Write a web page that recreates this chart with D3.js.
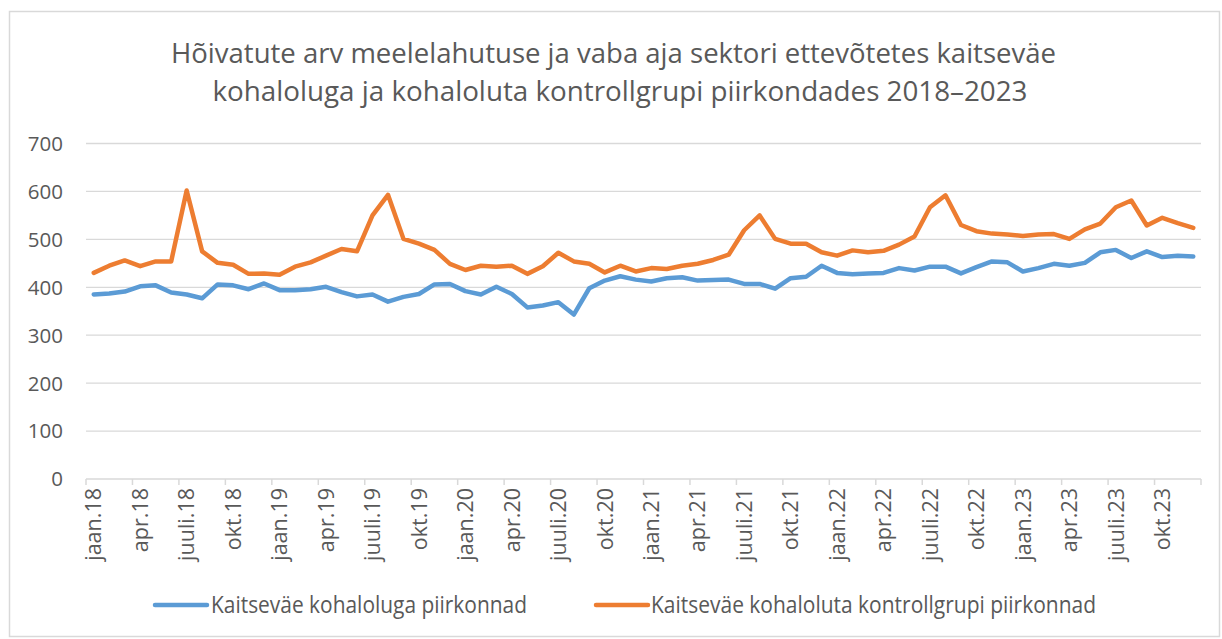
<!DOCTYPE html>
<html>
<head>
<meta charset="utf-8">
<script src="https://cdn.jsdelivr.net/npm/d3@7"></script>
<style>
  html, body { margin: 0; padding: 0; background: #fff; }
  svg { display: block; }
</style>
</head>
<body>
<svg id="chart" width="1222" height="639"></svg>
<script>
// ---- data ----
const titleLines = [
  "Hõivatute arv meelelahutuse ja vaba aja sektori ettevõtetes kaitseväe",
  "kohaloluga ja kohaloluta kontrollgrupi piirkondades 2018–2023"
];
const monthNames = ["jaan", "veebr", "märts", "apr", "mai", "juuni", "juuli", "aug", "sept", "okt", "nov", "dets"];
const years = ["18", "19", "20", "21", "22", "23"];
const categories = years.flatMap(y => monthNames.map(m => m + "." + y));
const tickLabels = years.flatMap(y => ["jaan." + y, "apr." + y, "juuli." + y, "okt." + y]);
const yTicks = [0, 100, 200, 300, 400, 500, 600, 700];
const seriesNames = ["Kaitseväe kohaloluga piirkonnad", "Kaitseväe kohaloluta kontrollgrupi piirkonnad"];
const withPresence = [
  385, 387, 391, 402, 404, 389, 385, 377, 406, 404, 396, 408,
  394, 394, 396, 401, 390, 381, 385, 370, 380, 386, 406, 407,
  392, 385, 401, 386, 358, 362, 369, 343, 398, 414, 423, 416,
  412, 419, 421, 414, 415, 416, 407, 407, 397, 419, 422, 445,
  430, 427, 429, 430, 440, 435, 443, 443, 429, 442, 454, 452,
  433, 440, 449, 445, 451, 473, 478, 461, 475, 463, 466, 464
];
const controlGroup = [
  430, 445, 456, 444, 454, 454, 602, 475, 451, 447, 428, 429,
  426, 443, 452, 466, 480, 475, 550, 593, 501, 491, 478, 449,
  436, 445, 443, 445, 428, 444, 472, 454, 449, 431, 445, 433,
  440, 438, 445, 449, 457, 468, 519, 550, 501, 491, 491, 473,
  466, 477, 473, 476, 489, 506, 567, 592, 530, 517, 512, 510,
  507, 510, 511, 501, 521, 533, 567, 581, 529, 545, 534, 524
];
const colors = ["#5B9BD5", "#ED7D31"];

// ---- drawing ----
const svg = d3.select("#chart");
const font = "'Open Sans', 'Noto Sans', sans-serif";
const textColor = "#595959";

svg.append("rect").attr("x", 9.5).attr("y", 11.5).attr("width", 1210).attr("height", 625)
  .attr("fill", "#fff").attr("stroke", "#d9d9d9").attr("stroke-width", 1.5);

const x = d3.scaleBand().domain(categories).range([86, 1201]).padding(0);
const y = d3.scaleLinear().domain([0, 700]).range([479, 143.5]);
const cx = c => x(c) + x.bandwidth() / 2;

// title
const titleX = [171, 212.5], titleW = [885, 815], titleY = [63, 101];
titleLines.forEach((t, i) => {
  svg.append("text").attr("x", titleX[i]).attr("y", titleY[i])
    .attr("font-family", font).attr("font-size", 26.5).attr("fill", textColor)
    .attr("textLength", titleW[i]).attr("lengthAdjust", "spacingAndGlyphs")
    .text(t);
});

// gridlines
svg.append("g").selectAll("line").data(yTicks.filter(d => d > 0)).join("line")
  .attr("x1", 86).attr("x2", 1201)
  .attr("y1", d => y(d)).attr("y2", d => y(d))
  .attr("stroke", "#d9d9d9").attr("stroke-width", 1.3);

// y labels
svg.append("g").selectAll("text").data(yTicks).join("text")
  .attr("x", 63).attr("y", d => y(d)).attr("dy", "0.36em")
  .attr("text-anchor", "end").attr("font-family", font).attr("font-size", 20.5)
  .attr("fill", textColor).text(d => d);

// x axis line and ticks
svg.append("line").attr("x1", 86).attr("x2", 1201).attr("y1", y(0)).attr("y2", y(0))
  .attr("stroke", "#d9d9d9").attr("stroke-width", 1.5);
const tickCats = categories.filter((c, i) => i % 3 === 0);
const tickPos = tickCats.map(c => x(c)).concat([x.range()[1]]);
svg.append("g").selectAll("line").data(tickPos).join("line")
  .attr("x1", d => d).attr("x2", d => d).attr("y1", y(0)).attr("y2", y(0) + 6)
  .attr("stroke", "#d9d9d9").attr("stroke-width", 1.5);

// x labels
svg.append("g").selectAll("text").data(tickCats).join("text")
  .attr("transform", (c) => `translate(${cx(c)},${y(0) + 9}) rotate(-90)`)
  .attr("dy", "0.36em").attr("text-anchor", "end")
  .attr("font-family", font).attr("font-size", 21.5).attr("fill", textColor)
  .text((c, i) => tickLabels[i]);

// lines
const line = d3.line().x((d, i) => cx(categories[i])).y(d => y(d));
[withPresence, controlGroup].forEach((s, k) => {
  svg.append("path").datum(s).attr("d", line)
    .attr("fill", "none").attr("stroke", colors[k]).attr("stroke-width", 4.5)
    .attr("stroke-linejoin", "round").attr("stroke-linecap", "round");
});

// legend
const legX = [155, 596], legTextX = [211, 651], legW = [316, 445];
seriesNames.forEach((n, k) => {
  svg.append("line").attr("x1", legX[k]).attr("x2", legX[k] + 52).attr("y1", 605).attr("y2", 605)
    .attr("stroke", colors[k]).attr("stroke-width", 4.5).attr("stroke-linecap", "round");
  svg.append("text").attr("x", legTextX[k]).attr("y", 613)
    .attr("font-family", font).attr("font-size", 23).attr("fill", textColor)
    .attr("textLength", legW[k]).attr("lengthAdjust", "spacingAndGlyphs")
    .text(n);
});
</script>
</body>
</html>
